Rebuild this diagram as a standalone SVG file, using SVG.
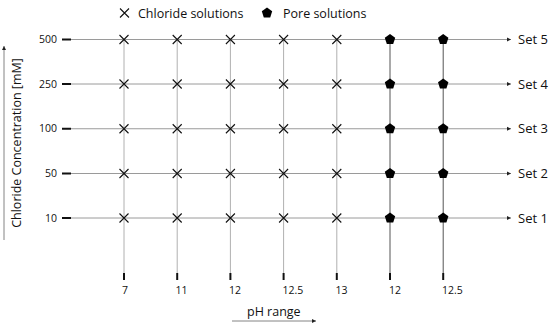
<svg xmlns="http://www.w3.org/2000/svg" width="550" height="326" viewBox="0 0 550 326">
<defs>
<marker id="ah" markerWidth="6" markerHeight="6" refX="4" refY="3" orient="auto" markerUnits="userSpaceOnUse">
<path d="M0,1 L4,3 L0,5 Z" fill="#222"/>
</marker>
<path id="x" d="M-4.5,-4.5 L4.5,4.5 M-4.5,4.5 L4.5,-4.5" stroke="#111" stroke-width="1.1" fill="none"/>
<polygon id="p" points="0,-5.5 5.2,-1.7 3.2,4.5 -3.2,4.5 -5.2,-1.7" fill="#000"/>
</defs>
<style>
text{font-family:"Open Sans","Noto Sans","DejaVu Sans",sans-serif;fill:#111}
.t{font-size:10.5px}
.l{font-size:12.5px}
.s{font-size:13px}
.h{stroke:#9a9a9a;stroke-width:1;fill:none}
.v{stroke:#b0b0b0;stroke-width:1;fill:none}
.vd{stroke:#555;stroke-width:1;fill:none}
.tk{stroke:#111;stroke-width:2;fill:none}
.ax{stroke:#666;stroke-width:0.8;fill:none}
</style>
<rect width="550" height="326" fill="#fff"/>
<g id="connectors">
<line class="h" x1="71" y1="39.5" x2="511" y2="39.5" marker-end="url(#ah)"/>
<line class="h" x1="71" y1="84" x2="511" y2="84" marker-end="url(#ah)"/>
<line class="h" x1="71" y1="128.75" x2="511" y2="128.75" marker-end="url(#ah)"/>
<line class="h" x1="71" y1="173.5" x2="511" y2="173.5" marker-end="url(#ah)"/>
<line class="h" x1="71" y1="218" x2="511" y2="218" marker-end="url(#ah)"/>
<line class="v" x1="124" y1="39.5" x2="124" y2="273"/>
<line class="v" x1="177.2" y1="39.5" x2="177.2" y2="273"/>
<line class="v" x1="230.4" y1="39.5" x2="230.4" y2="273"/>
<line class="v" x1="283.6" y1="39.5" x2="283.6" y2="273"/>
<line class="v" x1="336.8" y1="39.5" x2="336.8" y2="273"/>
<line class="vd" x1="390" y1="39.5" x2="390" y2="273"/>
<line class="vd" x1="443.2" y1="39.5" x2="443.2" y2="273"/>
</g>
<g id="y-axis">
<line class="ax" x1="4" y1="240" x2="4" y2="46" marker-end="url(#ah)"/>
<text class="l" transform="translate(20.5,143) rotate(-90)" text-anchor="middle">Chloride Concentration [mM]</text>
<line class="tk" x1="62" y1="39.5" x2="71" y2="39.5"/>
<line class="tk" x1="62" y1="84" x2="71" y2="84"/>
<line class="tk" x1="62" y1="128.75" x2="71" y2="128.75"/>
<line class="tk" x1="62" y1="173.5" x2="71" y2="173.5"/>
<line class="tk" x1="62" y1="218" x2="71" y2="218"/>
<text class="t" x="57" y="43" text-anchor="end">500</text>
<text class="t" x="57" y="87.5" text-anchor="end">250</text>
<text class="t" x="57" y="132.25" text-anchor="end">100</text>
<text class="t" x="57" y="177" text-anchor="end">50</text>
<text class="t" x="57" y="221.5" text-anchor="end">10</text>
</g>
<g id="x-axis">
<line class="tk" x1="124" y1="273" x2="124" y2="280"/>
<line class="tk" x1="177.2" y1="273" x2="177.2" y2="280"/>
<line class="tk" x1="230.4" y1="273" x2="230.4" y2="280"/>
<line class="tk" x1="283.6" y1="273" x2="283.6" y2="280"/>
<line class="tk" x1="336.8" y1="273" x2="336.8" y2="280"/>
<line class="tk" x1="390" y1="273" x2="390" y2="280"/>
<line class="tk" x1="443.2" y1="273" x2="443.2" y2="280"/>
<text class="t" x="122" y="294">7</text>
<text class="t" x="175.5" y="294">11</text>
<text class="t" x="229" y="294">12</text>
<text class="t" x="282.5" y="294">12.5</text>
<text class="t" x="335.5" y="294">13</text>
<text class="t" x="389" y="294">12</text>
<text class="t" x="442" y="294">12.5</text>
<text class="l" x="247" y="316">pH range</text>
<line class="ax" x1="232" y1="321" x2="316" y2="321" marker-end="url(#ah)"/>
</g>
<g id="set-labels">
<text class="s" x="518" y="44">Set 5</text>
<text class="s" x="518" y="88.5">Set 4</text>
<text class="s" x="518" y="133.25">Set 3</text>
<text class="s" x="518" y="178">Set 2</text>
<text class="s" x="518" y="222.5">Set 1</text>
</g>
<g id="legend">
<use href="#x" x="124.5" y="13"/>
<text class="l" x="138" y="17.5">Chloride solutions</text>
<use href="#p" x="267" y="13"/>
<text class="l" x="283" y="17.5">Pore solutions</text>
</g>
<g id="chloride-points">
<use href="#x" x="124" y="39.5"/><use href="#x" x="177.2" y="39.5"/><use href="#x" x="230.4" y="39.5"/><use href="#x" x="283.6" y="39.5"/><use href="#x" x="336.8" y="39.5"/>
<use href="#x" x="124" y="84"/><use href="#x" x="177.2" y="84"/><use href="#x" x="230.4" y="84"/><use href="#x" x="283.6" y="84"/><use href="#x" x="336.8" y="84"/>
<use href="#x" x="124" y="128.75"/><use href="#x" x="177.2" y="128.75"/><use href="#x" x="230.4" y="128.75"/><use href="#x" x="283.6" y="128.75"/><use href="#x" x="336.8" y="128.75"/>
<use href="#x" x="124" y="173.5"/><use href="#x" x="177.2" y="173.5"/><use href="#x" x="230.4" y="173.5"/><use href="#x" x="283.6" y="173.5"/><use href="#x" x="336.8" y="173.5"/>
<use href="#x" x="124" y="218"/><use href="#x" x="177.2" y="218"/><use href="#x" x="230.4" y="218"/><use href="#x" x="283.6" y="218"/><use href="#x" x="336.8" y="218"/>
</g>
<g id="pore-points">
<use href="#p" x="390" y="39.5"/><use href="#p" x="443.2" y="39.5"/>
<use href="#p" x="390" y="84"/><use href="#p" x="443.2" y="84"/>
<use href="#p" x="390" y="128.75"/><use href="#p" x="443.2" y="128.75"/>
<use href="#p" x="390" y="173.5"/><use href="#p" x="443.2" y="173.5"/>
<use href="#p" x="390" y="218"/><use href="#p" x="443.2" y="218"/>
</g>
</svg>
